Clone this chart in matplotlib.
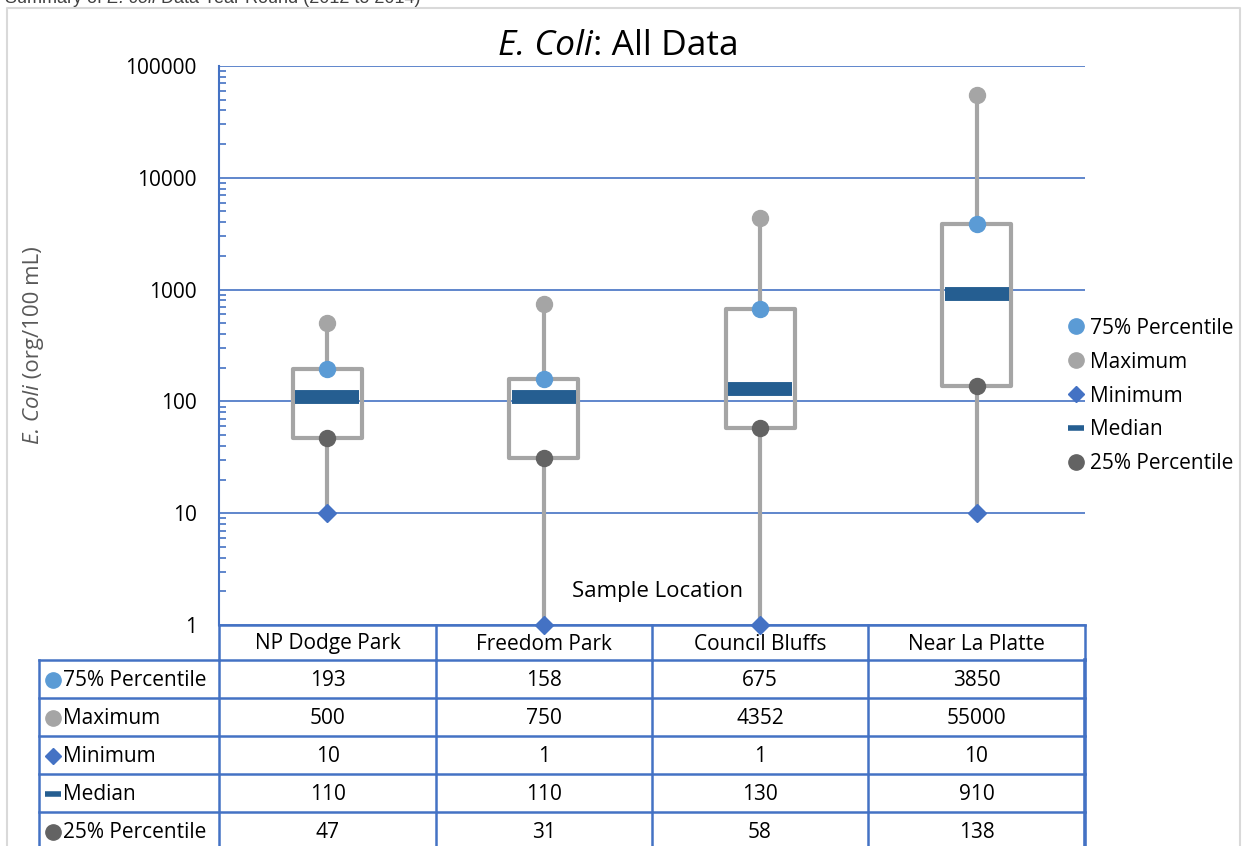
import matplotlib
matplotlib.use("Agg")
import matplotlib.pyplot as plt
from matplotlib.lines import Line2D
from matplotlib.patches import Rectangle
import numpy as np

# ---- data ----
categories = ["NP Dodge Park", "Freedom Park", "Council Bluffs", "Near La Platte"]
series_names = ["75% Percentile", "Maximum", "Minimum", "Median", "25% Percentile"]
p75 = [193, 158, 675, 3850]
maximum = [500, 750, 4352, 55000]
minimum = [10, 1, 1, 10]
median = [110, 110, 130, 910]
p25 = [47, 31, 58, 138]
ytick_vals = [1, 10, 100, 1000, 10000, 100000]
ytick_labels = ["1", "10", "100", "1000", "10000", "100000"]

# ---- styles ----
C75 = "#5B9BD5"
CMAX = "#A5A5A5"
CMIN = "#4472C4"
CMED = "#255E91"
C25 = "#636363"
GRID = "#4472C4"
BOXC = "#A5A5A5"
FS = 15

plt.rcParams["font.family"] = ["Open Sans", "DejaVu Sans"]

W, H = 1244, 846
fig = plt.figure(figsize=(W / 100, H / 100), dpi=100)
renderer = fig.canvas.get_renderer()

def fx(px):
    return px / W

def fy(py):
    return 1 - py / H

# overlay axes in pixel coords for frame and table
ax_t = fig.add_axes([0, 0, 1, 1], zorder=0)
ax_t.set_xlim(0, W)
ax_t.set_ylim(H, 0)
ax_t.axis("off")


def rich_text(x, y, parts, fontsize, color="black", align="center", rotation=0,
              family=None):
    """Draw a run of (text, style) pieces; (x, y) in pixels, baseline position."""
    kw = dict(fontsize=fontsize, color=color)
    if family:
        kw["family"] = family
    texts = []
    sizes = []
    for s, style in parts:
        t = ax_t.text(0, 0, s, fontstyle=style, ha="left", va="baseline",
                      rotation=rotation, rotation_mode="anchor", **kw)
        t.set_rotation(0)
        bb = t.get_window_extent(renderer)
        t.set_rotation(rotation)
        texts.append(t)
        sizes.append(bb.width)
    total = sum(sizes)
    start = -total / 2 if align == "center" else 0
    off = start
    for t, w in zip(texts, sizes):
        if rotation == 90:
            t.set_position((x, y - off))
        else:
            t.set_position((x + off, y))
        off += w


# outer chart border
ax_t.plot([7, 7, 1240, 1240], [H, 8, 8, H], color="#D9D9D9", lw=1.5)

# main axes
L, R, T, B = 219, 1085, 66, 625
ax = fig.add_axes([fx(L), fy(B), fx(R - L), (B - T) / H], zorder=1)
ax.patch.set_alpha(0)
ax.set_yscale("log")
ax.set_ylim(1, 100000)
ax.set_xlim(0, len(categories))
x = np.arange(len(categories)) + 0.5

ax.set_yticks(ytick_vals)
ax.set_yticklabels(ytick_labels)
ax.set_xticks([])
ax.tick_params(axis="y", which="major", length=0, pad=16, labelsize=FS, colors="black")
ax.tick_params(axis="y", which="minor", direction="in", length=5, width=1.2, color=GRID)
ax.yaxis.set_minor_formatter(matplotlib.ticker.NullFormatter())
for s in ["top", "right", "bottom"]:
    ax.spines[s].set_visible(False)
ax.spines["left"].set_color(GRID)
ax.spines["left"].set_linewidth(1.5)
ax.grid(True, which="major", axis="y", color=GRID, lw=1.2, zorder=0)
ax.set_axisbelow(True)

# whiskers
ax.vlines(x, minimum, p25, color=BOXC, lw=3, zorder=2)
ax.vlines(x, p75, maximum, color=BOXC, lw=3, zorder=2)
# boxes
bw = 0.32
for xi, lo, hi in zip(x, p25, p75):
    ax.add_patch(Rectangle((xi - bw / 2, lo), bw, hi - lo, fill=False,
                           edgecolor=BOXC, lw=3, joinstyle="round", zorder=2))
# markers
ax.plot(x, median, ls="none", marker="_", markersize=46, mew=10, color=CMED, zorder=3)
ax.plot(x, maximum, ls="none", marker="o", markersize=11.5, color=CMAX, mec=CMAX, zorder=4)
ax.plot(x, p75, ls="none", marker="o", markersize=11.5, color=C75, mec=C75, zorder=4)
ax.plot(x, p25, ls="none", marker="o", markersize=11.5, color=C25, mec=C25, zorder=4)
ax.plot(x, minimum, ls="none", marker="D", markersize=9, color=CMIN, mec=CMIN, zorder=4,
        clip_on=False)

# axis title inside plot
ax_t.text(658, 592, "Sample Location", ha="center", va="center", fontsize=16, zorder=5)

# chart title
rich_text(618, 55, [("E. Coli", "italic"), (": All Data", "normal")], 25.5)

# y label
rich_text(39, 345, [("E. Coli", "italic"), (" (org/100 mL)", "normal")], 16,
          color="#595959", rotation=90)

# header text above chart (partially cut, as in the reference)
rich_text(5, 3, [("Summary of ", "normal"), ("E. coli", "italic"),
                 (" Data Year Round (2012 to 2014)", "normal")], 13,
          color="#404040", align="left", family="Liberation Sans")

# ---- data table ----
colx = [219, 436, 652, 868, 1085]
rowy = [660, 698, 736, 774, 812, 850]
lc = "#4472C4"
tlw = 1.8
# header row
ax_t.plot([219, 1085], [625, 625], color=lc, lw=tlw)
for cx in colx:
    ax_t.plot([cx, cx], [625, 660], color=lc, lw=tlw)
for i, c in enumerate(categories):
    ax_t.text((colx[i] + colx[i + 1]) / 2, 644, c, ha="center", va="center", fontsize=FS)
# data rows
for ry in rowy[:-1]:
    ax_t.plot([39, 1085], [ry, ry], color=lc, lw=tlw)
for cx in [39] + colx:
    ax_t.plot([cx, cx], [660, 850], color=lc, lw=tlw if cx != 1085 else 2.6)

values = [p75, maximum, minimum, median, p25]
markers = [("o", C75, 11), ("o", CMAX, 11), ("D", CMIN, 8), ("_", CMED, 12), ("o", C25, 11)]
for r, (name, vals, (mk, col, ms)) in enumerate(zip(series_names, values, markers)):
    cy = (rowy[r] + rowy[r + 1]) / 2
    kw = dict(mew=4) if mk == "_" else dict(mec=col)
    ax_t.plot([53], [cy + 1], marker=mk, markersize=ms, color=col, ls="none", **kw)
    ax_t.text(63, cy + 2, name, ha="left", va="center", fontsize=FS)
    for i, v in enumerate(vals):
        ax_t.text((colx[i] + colx[i + 1]) / 2, cy + 2, str(v), ha="center", va="center",
                  fontsize=FS)

# ---- legend ----
handles = [
    Line2D([], [], ls="none", marker="o", markersize=11, color=C75),
    Line2D([], [], ls="none", marker="o", markersize=11, color=CMAX),
    Line2D([], [], ls="none", marker="D", markersize=8, color=CMIN),
    Line2D([], [], ls="none", marker="_", markersize=12, mew=4, color=CMED),
    Line2D([], [], ls="none", marker="o", markersize=11, color=C25),
]
fig.legend(handles, series_names, loc="center left", bbox_to_anchor=(fx(1068), fy(396)),
           frameon=False, fontsize=FS, handlelength=0.8, handletextpad=0.25,
           labelspacing=0.62, borderpad=0, borderaxespad=0)

fig.savefig("out.png", dpi=100)
